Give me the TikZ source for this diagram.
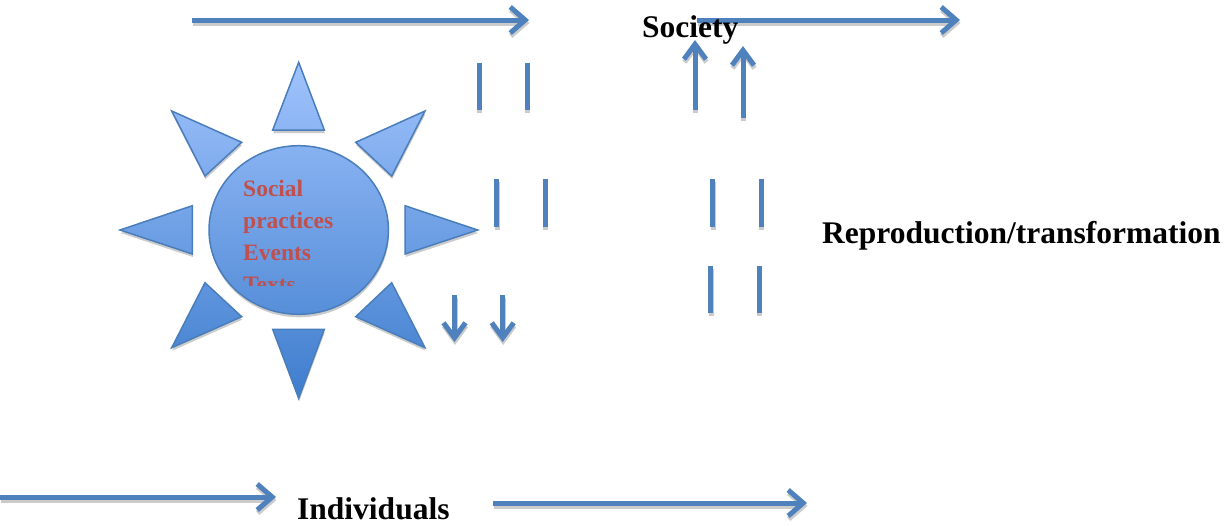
\documentclass[tikz,border=0pt]{standalone}
\usepackage{fontspec}
\setmainfont{Liberation Serif}
\usetikzlibrary{arrows.meta}

\definecolor{linkblue}{HTML}{4F81BD}
\definecolor{rimblue}{HTML}{4A7EBB}
\definecolor{sunlight}{HTML}{A0C3FD}
\definecolor{sundark}{HTML}{3E7DCD}
\definecolor{shadowgray}{HTML}{CBCBCB}
\definecolor{labelred}{HTML}{C0504D}

\def\linkcol{linkblue}
\tikzset{
  bar/.style={draw=\linkcol, line width=5pt},
  flow/.style={bar, -{Straight Barb[length=15pt,width=26pt]}},
  riser/.style={bar, -{Straight Barb[length=15pt,width=22pt]}},
  dropshadow/.style={transform canvas={shift={(0.5pt,-3pt)}}},
  caption/.style={inner sep=0pt, font=\fontsize{31.5}{36}\selectfont\bfseries},
  sunlabel/.style={inner sep=0pt, text=labelred,
    font=\fontsize{23.5}{28}\selectfont\bfseries},
}

% outline of the sun: eight rays and the central disc
\newcommand\sunshape{
  (298.7,62.3) -- (324.3,130) -- (272.7,130) -- cycle
  (272.7,329.3) -- (324.3,329.3) -- (298.7,398.3) -- cycle
  (120,230) -- (192.3,205.7) -- (192.3,254) -- cycle
  (405,205.7) -- (477.7,230) -- (405,254) -- cycle
  (171.7,111) -- (241.7,142.3) -- (205,176) -- cycle
  (425,111) -- (391.7,176) -- (355.7,142.3) -- cycle
  (205,282.7) -- (241.7,316.7) -- (171.7,347.7) -- cycle
  (391.7,282.7) -- (425,347.7) -- (355.7,316.7) -- cycle
  (298.7,230) ellipse [x radius=89.7pt, y radius=84.3pt]}

% all arrows and strokes, drawn in the colour \linkcol
\newcommand\linkwork{
  \draw[flow] (t1a) -- (t1b);
  \draw[flow] (t2a) -- (t2b);
  \draw[bar]  (b0a) -- (b0b);
  \draw[flow] (b1a) -- (b1b);
  \draw[flow] (b2a) -- (b2b);
  \draw[riser] (u1a) -- (u1b);
  \draw[riser] (u2a) -- (u2b);
  \draw[riser] (d1a) -- (d1b);
  \draw[riser] (d2a) -- (d2b);
  \foreach \x/\ya/\yb in {479/63/110, 527/63/110,
                          496.7/179/227, 545/179/227,
                          712.7/179/227, 761/179/227,
                          710.7/266/313, 759/266/313}
    \draw[bar] (\x,\ya) -- (\x,\yb);
}

\begin{document}
\begin{tikzpicture}[x=1pt, y=-1pt]
\useasboundingbox (0,0) rectangle (1229,525);

% ---- sun ----
\begin{scope}[dropshadow]
  \fill[shadowgray] \sunshape;
\end{scope}
\shade[top color=sunlight, bottom color=sundark] \sunshape;
\draw[rimblue, line width=1.5pt] \sunshape;

% disc text, last line cut off by the text box
\begin{scope}
  \clip (200,150) rectangle (400,285);
  \node[sunlabel, anchor=base west] (social) at (243,196.7) {Social};
  \node[sunlabel, anchor=base west] (practices) at (243,228.7) {practices};
  \node[sunlabel, anchor=base west] (events) at (243,260.3) {Events};
  \node[sunlabel, anchor=base west] (texts) at (243,292) {Texts};
\end{scope}

% ---- arrow end points ----
\coordinate (t1a) at (192,20);  \coordinate (t1b) at (529,20);
\coordinate (t2a) at (697,20);  \coordinate (t2b) at (960,20);
\coordinate (b0a) at (0,497);   \coordinate (b0b) at (133,497);
\coordinate (b1a) at (128,497); \coordinate (b1b) at (276,497);
\coordinate (b2a) at (493,503); \coordinate (b2b) at (807,503);
\coordinate (u1a) at (695,110); \coordinate (u1b) at (695,40);
\coordinate (u2a) at (743,118); \coordinate (u2b) at (743,46);
\coordinate (d1a) at (454.5,295); \coordinate (d1b) at (454.5,342);
\coordinate (d2a) at (502.7,295); \coordinate (d2b) at (502.7,342);

% shadows first, then the blue strokes on top
\begin{scope}[dropshadow]
  \def\linkcol{shadowgray}
  \linkwork
\end{scope}
\linkwork

% ---- labels ----
\node[caption, anchor=base west] (society) at (642,37) {Society};
\node[caption, anchor=base west] (repro) at (822,243.5) {Reproduction/transformation};
\node[caption, anchor=base west] (indiv) at (297,519) {Individuals};
\end{tikzpicture}
\end{document}
